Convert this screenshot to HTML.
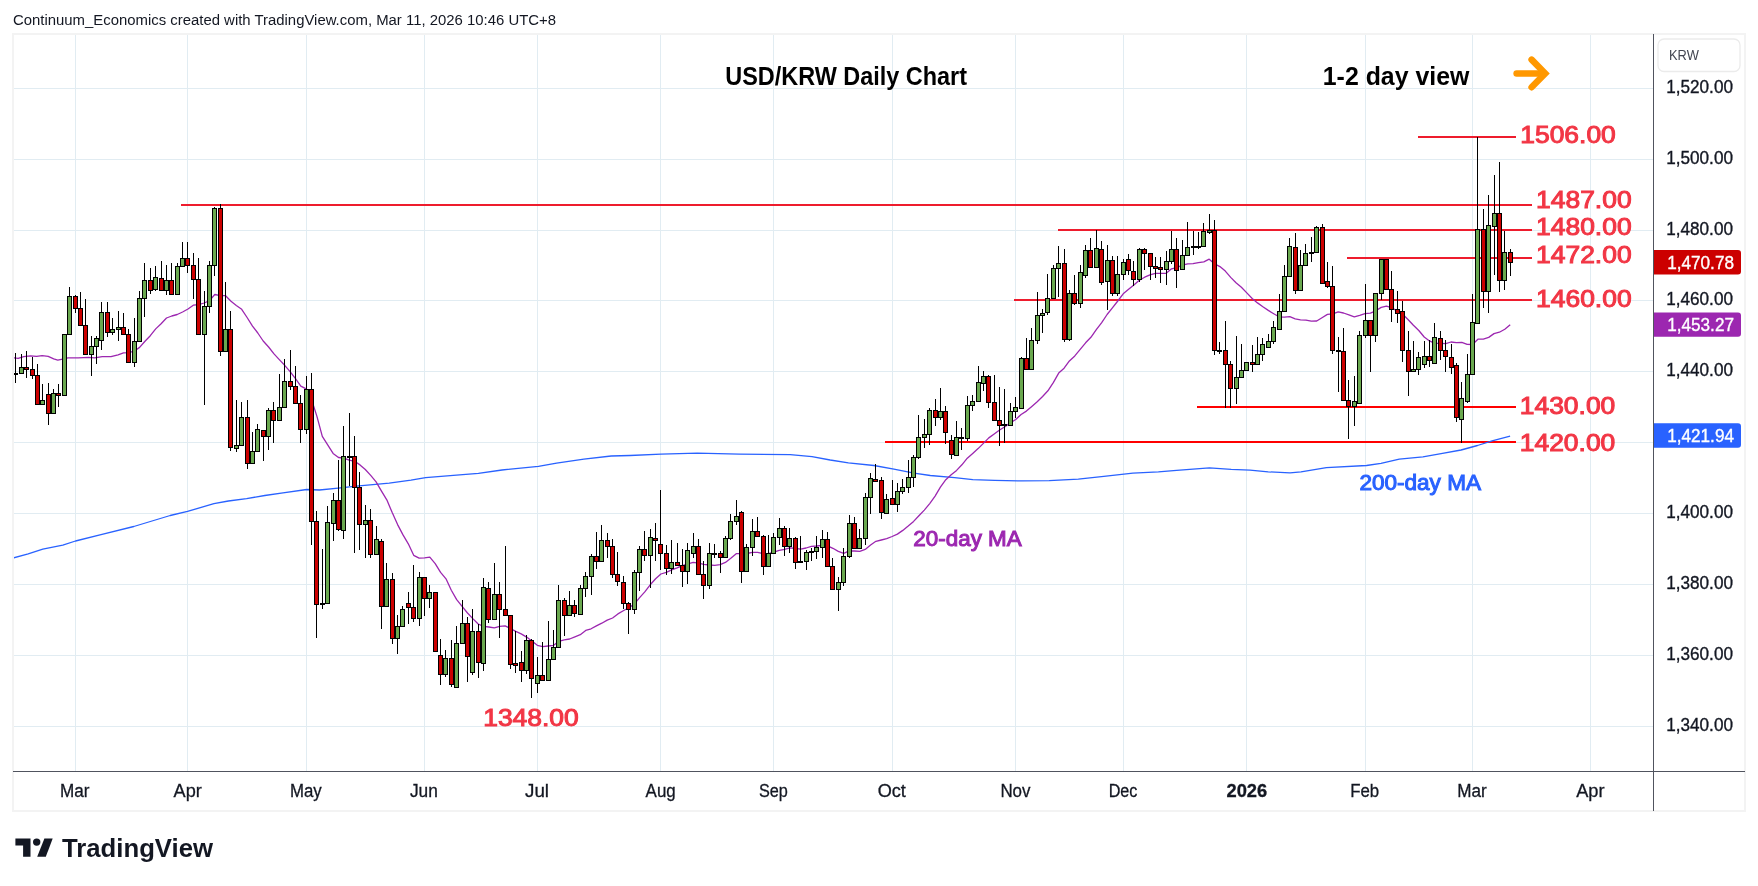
<!DOCTYPE html><html><head><meta charset="utf-8"><title>USD/KRW Daily Chart</title>
<style>html,body{margin:0;padding:0;background:#fff;}body{width:1758px;height:886px;overflow:hidden;}svg{display:block;will-change:transform;}</style></head><body>
<svg width="1758" height="886" viewBox="0 0 1758 886" font-family='"Liberation Sans", Arial, sans-serif'>
<rect width="1758" height="886" fill="#ffffff"/>
<text x="13" y="24.8" font-size="15.4" fill="#131722" textLength="543" lengthAdjust="spacingAndGlyphs">Continuum_Economics created with TradingView.com, Mar 11, 2026 10:46 UTC+8</text>
<rect x="13" y="34" width="1732" height="777" fill="none" stroke="#f3f3f3" stroke-width="2"/>
<defs><clipPath id="pane"><rect x="14" y="35" width="1639" height="736"/></clipPath></defs>
<g clip-path="url(#pane)">
<rect x="14" y="88" width="1639" height="1" fill="#e1ecf2"/>
<rect x="14" y="159" width="1639" height="1" fill="#e1ecf2"/>
<rect x="14" y="230" width="1639" height="1" fill="#e1ecf2"/>
<rect x="14" y="300" width="1639" height="1" fill="#e1ecf2"/>
<rect x="14" y="371" width="1639" height="1" fill="#e1ecf2"/>
<rect x="14" y="442" width="1639" height="1" fill="#e1ecf2"/>
<rect x="14" y="513" width="1639" height="1" fill="#e1ecf2"/>
<rect x="14" y="584" width="1639" height="1" fill="#e1ecf2"/>
<rect x="14" y="655" width="1639" height="1" fill="#e1ecf2"/>
<rect x="14" y="726" width="1639" height="1" fill="#e1ecf2"/>
<rect x="75" y="35" width="1" height="736" fill="#e1ecf2"/>
<rect x="187" y="35" width="1" height="736" fill="#e1ecf2"/>
<rect x="306" y="35" width="1" height="736" fill="#e1ecf2"/>
<rect x="424" y="35" width="1" height="736" fill="#e1ecf2"/>
<rect x="537" y="35" width="1" height="736" fill="#e1ecf2"/>
<rect x="660" y="35" width="1" height="736" fill="#e1ecf2"/>
<rect x="773" y="35" width="1" height="736" fill="#e1ecf2"/>
<rect x="892" y="35" width="1" height="736" fill="#e1ecf2"/>
<rect x="1015" y="35" width="1" height="736" fill="#e1ecf2"/>
<rect x="1123" y="35" width="1" height="736" fill="#e1ecf2"/>
<rect x="1246" y="35" width="1" height="736" fill="#e1ecf2"/>
<rect x="1365" y="35" width="1" height="736" fill="#e1ecf2"/>
<rect x="1472" y="35" width="1" height="736" fill="#e1ecf2"/>
<rect x="1590" y="35" width="1" height="736" fill="#e1ecf2"/>
<rect x="1418" y="136.0" width="98" height="2" fill="#ee1c2d"/>
<rect x="181" y="204.0" width="1351" height="2" fill="#ee1c2d"/>
<rect x="1058" y="229.0" width="474" height="2" fill="#ee1c2d"/>
<rect x="1347" y="257.0" width="185" height="2" fill="#ee1c2d"/>
<rect x="1014" y="299.0" width="518" height="2" fill="#ee1c2d"/>
<rect x="1197" y="406.0" width="319" height="2" fill="#ff0000"/>
<rect x="885" y="441.0" width="631" height="2" fill="#ff0000"/>
<polyline points="13.3,557.9 28.2,553.8 42.8,549.2 62.8,545.2 75.5,541.0 101.0,534.6 133.8,526.5 170.2,515.5 187.5,511.4 213.9,503.7 228.4,501.0 246.6,498.6 264.8,495.5 283.0,492.8 306.7,489.5 319.4,490.0 338.2,488.2 356.4,486.1 389.2,483.1 411.0,480.1 425.6,477.7 456.5,475.1 478.4,473.3 502.0,470.0 538.4,466.4 556.6,463.1 583.9,459.1 611.2,456.0 630.0,455.5 661.0,454.2 697.3,453.1 739.2,454.2 790.2,454.6 812.0,456.7 830.2,460.0 848.4,462.8 873.9,465.5 893.9,469.1 914.0,473.1 930.3,475.5 954.6,477.7 972.8,479.7 994.6,480.4 1021.9,480.9 1049.2,480.6 1078.3,479.1 1103.8,476.4 1132.9,473.1 1158.4,471.8 1176.6,470.4 1209.4,467.8 1231.2,469.3 1250.0,470.1 1268.2,471.9 1290.0,472.8 1301.0,471.9 1326.4,467.7 1366.5,465.5 1381.0,463.3 1399.3,459.1 1422.9,456.8 1441.1,453.7 1461.1,450.0 1477.5,445.5 1492.1,440.9 1510.1,436.1" fill="none" stroke="#2962ff" stroke-width="1.3" stroke-linejoin="round"/>
<polyline points="13.4,357.9 18.2,358.3 23.7,356.7 30.5,355.8 36.6,356.4 42.1,355.7 48.2,356.4 53.7,358.8 57.8,360.1 62.6,359.1 68.0,357.9 78.3,357.9 88.5,357.4 94.6,357.9 102.2,356.7 111.0,356.7 118.1,354.8 123.5,352.9 128.8,352.6 134.2,351.2 139.6,347.4 145.0,341.2 150.3,335.7 155.7,328.9 161.1,323.7 166.5,318.0 171.8,316.0 177.2,314.5 182.6,312.0 188.0,309.0 193.3,305.2 198.7,304.6 204.1,303.0 209.5,300.7 214.8,294.5 220.2,295.6 225.6,295.7 231.0,301.3 236.3,305.5 241.7,309.3 247.1,317.5 252.5,326.1 257.8,333.0 263.2,341.0 268.6,347.0 274.0,353.9 279.3,359.6 284.7,365.3 290.1,371.7 295.5,378.6 300.8,386.1 306.2,388.9 311.6,399.6 317.0,416.6 322.3,436.4 327.7,444.9 333.1,453.4 338.5,457.5 343.8,458.1 349.2,460.1 354.6,461.3 360.0,464.9 365.3,469.5 370.7,475.4 376.1,481.8 381.5,491.1 386.8,499.8 392.2,512.6 397.6,524.6 403.0,534.9 408.3,543.8 413.7,555.3 419.1,558.1 424.5,557.8 429.8,557.2 435.2,563.7 440.6,572.4 446.0,578.8 451.3,590.2 456.7,599.6 462.1,606.4 467.5,613.0 472.8,618.6 478.2,624.0 483.6,626.4 488.9,627.0 494.3,627.8 499.7,626.3 505.1,625.8 510.4,628.5 515.8,631.4 521.2,633.9 526.6,637.1 531.9,641.1 537.3,645.3 542.7,646.7 548.1,646.0 553.4,645.4 558.8,641.3 564.2,639.9 569.6,639.0 574.9,636.8 580.3,634.7 585.7,630.4 591.1,628.8 596.4,625.9 601.8,623.2 607.2,620.1 612.6,618.0 617.9,613.9 623.3,610.8 628.7,607.8 634.1,604.4 639.4,597.9 644.8,591.9 650.2,584.8 655.6,578.8 660.9,574.0 666.3,572.4 671.7,569.8 677.1,567.8 682.4,565.7 687.8,563.8 693.2,562.3 698.6,563.2 703.9,564.4 709.3,565.0 714.7,565.4 720.1,564.6 725.4,562.4 730.8,558.3 736.2,553.7 741.6,553.6 746.9,553.5 752.3,552.3 757.7,552.3 763.1,553.6 768.4,553.6 773.8,552.1 779.2,550.4 784.6,549.4 789.9,547.8 795.3,548.4 800.7,549.1 806.1,548.0 811.4,546.3 816.8,546.0 822.2,545.3 827.6,545.8 832.9,548.3 838.3,551.4 843.7,553.3 849.1,550.9 854.4,551.0 859.8,551.3 865.2,549.4 870.6,545.0 875.9,541.3 881.3,540.0 886.7,538.6 892.1,536.5 897.4,534.1 902.8,530.4 908.2,526.1 913.6,521.4 918.9,515.7 924.3,510.1 929.7,503.6 935.1,496.1 940.4,487.2 945.8,479.7 951.2,474.7 956.6,470.4 961.9,464.8 967.3,458.2 972.7,453.4 978.1,448.6 983.4,443.4 988.8,437.9 994.2,434.0 999.6,430.0 1004.9,426.7 1010.3,422.9 1015.7,419.5 1021.1,414.5 1026.4,411.1 1031.8,406.4 1037.2,401.7 1042.6,396.5 1047.9,390.8 1053.3,382.6 1058.7,373.1 1064.1,368.2 1069.4,360.9 1074.8,355.9 1080.2,349.4 1085.6,342.8 1090.9,337.3 1096.3,329.6 1101.7,322.7 1107.1,314.5 1112.4,307.9 1117.8,301.0 1123.2,293.8 1128.6,289.3 1133.9,284.9 1139.3,280.3 1144.7,277.2 1150.0,274.8 1155.4,273.3 1160.8,273.3 1166.2,273.3 1171.5,268.8 1176.9,267.6 1182.3,265.2 1187.7,263.9 1193.0,263.7 1198.4,262.7 1203.8,261.8 1209.2,259.2 1214.5,263.7 1219.9,266.6 1225.3,271.1 1230.7,277.4 1236.0,282.7 1241.4,287.3 1246.8,292.9 1252.2,298.5 1257.5,302.9 1262.9,306.8 1268.3,310.4 1273.7,313.7 1279.0,316.8 1284.4,317.1 1289.8,316.6 1295.2,318.8 1300.5,319.8 1305.9,320.1 1311.3,321.2 1316.7,321.0 1322.0,317.7 1327.4,314.4 1332.8,313.8 1338.2,311.9 1343.5,313.0 1348.9,314.8 1354.3,316.8 1359.7,315.3 1365.0,313.6 1370.4,313.2 1375.8,310.8 1381.2,307.4 1386.5,306.2 1391.9,307.9 1397.3,311.2 1402.7,314.2 1408.0,319.5 1413.4,325.3 1418.8,330.5 1424.2,337.0 1429.5,340.9 1434.9,343.4 1440.3,343.4 1445.7,343.7 1451.0,342.0 1456.4,342.6 1461.8,342.4 1467.2,344.4 1472.5,344.5 1477.9,339.2 1483.3,339.1 1488.7,337.4 1494.0,333.6 1499.4,332.2 1504.8,329.2 1510.2,324.8" fill="none" stroke="#9c27b0" stroke-width="1.3" stroke-linejoin="round"/>
<g fill="#000"><rect x="15" y="353" width="1" height="20"/>
<rect x="15" y="375" width="1" height="8"/>
<rect x="13" y="373" width="5" height="2"/>
<rect x="21" y="354" width="1" height="13"/>
<rect x="19" y="367" width="5" height="7"/>
<rect x="20" y="368" width="3" height="5" fill="#6aa84f"/>
<rect x="26" y="351" width="1" height="16"/>
<rect x="26" y="370" width="1" height="8"/>
<rect x="24" y="367" width="5" height="3"/>
<rect x="25" y="368" width="3" height="1" fill="#cc0000"/>
<rect x="32" y="357" width="1" height="12"/>
<rect x="32" y="376" width="1" height="3"/>
<rect x="30" y="369" width="5" height="7"/>
<rect x="31" y="370" width="3" height="5" fill="#cc0000"/>
<rect x="37" y="364" width="1" height="11"/>
<rect x="35" y="375" width="5" height="30"/>
<rect x="36" y="376" width="3" height="28" fill="#cc0000"/>
<rect x="42" y="384" width="1" height="16"/>
<rect x="40" y="400" width="5" height="5"/>
<rect x="41" y="401" width="3" height="3" fill="#6aa84f"/>
<rect x="48" y="383" width="1" height="11"/>
<rect x="48" y="414" width="1" height="11"/>
<rect x="46" y="394" width="5" height="20"/>
<rect x="47" y="395" width="3" height="18" fill="#cc0000"/>
<rect x="53" y="389" width="1" height="4"/>
<rect x="51" y="393" width="5" height="21"/>
<rect x="52" y="394" width="3" height="19" fill="#6aa84f"/>
<rect x="58" y="384" width="1" height="9"/>
<rect x="58" y="396" width="1" height="11"/>
<rect x="56" y="393" width="5" height="3"/>
<rect x="57" y="394" width="3" height="1" fill="#cc0000"/>
<rect x="62" y="334" width="5" height="62"/>
<rect x="63" y="335" width="3" height="60" fill="#6aa84f"/>
<rect x="69" y="287" width="1" height="9"/>
<rect x="67" y="296" width="5" height="39"/>
<rect x="68" y="297" width="3" height="37" fill="#6aa84f"/>
<rect x="75" y="295" width="1" height="1"/>
<rect x="75" y="309" width="1" height="4"/>
<rect x="73" y="296" width="5" height="13"/>
<rect x="74" y="297" width="3" height="11" fill="#cc0000"/>
<rect x="80" y="292" width="1" height="16"/>
<rect x="78" y="308" width="5" height="18"/>
<rect x="79" y="309" width="3" height="16" fill="#cc0000"/>
<rect x="85" y="299" width="1" height="26"/>
<rect x="83" y="325" width="5" height="30"/>
<rect x="84" y="326" width="3" height="28" fill="#cc0000"/>
<rect x="91" y="336" width="1" height="10"/>
<rect x="91" y="355" width="1" height="21"/>
<rect x="89" y="346" width="5" height="9"/>
<rect x="90" y="347" width="3" height="7" fill="#6aa84f"/>
<rect x="96" y="336" width="1" height="2"/>
<rect x="96" y="347" width="1" height="17"/>
<rect x="94" y="338" width="5" height="9"/>
<rect x="95" y="339" width="3" height="7" fill="#6aa84f"/>
<rect x="101" y="302" width="1" height="10"/>
<rect x="101" y="341" width="1" height="9"/>
<rect x="99" y="312" width="5" height="29"/>
<rect x="100" y="313" width="3" height="27" fill="#6aa84f"/>
<rect x="107" y="302" width="1" height="10"/>
<rect x="107" y="333" width="1" height="4"/>
<rect x="105" y="312" width="5" height="21"/>
<rect x="106" y="313" width="3" height="19" fill="#cc0000"/>
<rect x="112" y="318" width="1" height="11"/>
<rect x="112" y="333" width="1" height="2"/>
<rect x="110" y="329" width="5" height="4"/>
<rect x="111" y="330" width="3" height="2" fill="#6aa84f"/>
<rect x="118" y="311" width="1" height="16"/>
<rect x="118" y="330" width="1" height="11"/>
<rect x="116" y="327" width="5" height="3"/>
<rect x="117" y="328" width="3" height="1" fill="#6aa84f"/>
<rect x="123" y="313" width="1" height="14"/>
<rect x="121" y="327" width="5" height="8"/>
<rect x="122" y="328" width="3" height="6" fill="#cc0000"/>
<rect x="128" y="329" width="1" height="5"/>
<rect x="126" y="334" width="5" height="29"/>
<rect x="127" y="335" width="3" height="27" fill="#cc0000"/>
<rect x="134" y="318" width="1" height="23"/>
<rect x="134" y="363" width="1" height="4"/>
<rect x="132" y="341" width="5" height="22"/>
<rect x="133" y="342" width="3" height="20" fill="#6aa84f"/>
<rect x="139" y="291" width="1" height="7"/>
<rect x="137" y="298" width="5" height="44"/>
<rect x="138" y="299" width="3" height="42" fill="#6aa84f"/>
<rect x="144" y="263" width="1" height="17"/>
<rect x="144" y="299" width="1" height="18"/>
<rect x="142" y="280" width="5" height="19"/>
<rect x="143" y="281" width="3" height="17" fill="#6aa84f"/>
<rect x="150" y="268" width="1" height="12"/>
<rect x="150" y="291" width="1" height="3"/>
<rect x="148" y="280" width="5" height="11"/>
<rect x="149" y="281" width="3" height="9" fill="#cc0000"/>
<rect x="155" y="266" width="1" height="11"/>
<rect x="155" y="290" width="1" height="1"/>
<rect x="153" y="277" width="5" height="13"/>
<rect x="154" y="278" width="3" height="11" fill="#6aa84f"/>
<rect x="161" y="261" width="1" height="17"/>
<rect x="159" y="278" width="5" height="13"/>
<rect x="160" y="279" width="3" height="11" fill="#cc0000"/>
<rect x="166" y="265" width="1" height="15"/>
<rect x="166" y="291" width="1" height="4"/>
<rect x="164" y="280" width="5" height="11"/>
<rect x="165" y="281" width="3" height="9" fill="#6aa84f"/>
<rect x="171" y="263" width="1" height="17"/>
<rect x="169" y="280" width="5" height="15"/>
<rect x="170" y="281" width="3" height="13" fill="#cc0000"/>
<rect x="177" y="263" width="1" height="3"/>
<rect x="175" y="266" width="5" height="29"/>
<rect x="176" y="267" width="3" height="27" fill="#6aa84f"/>
<rect x="182" y="242" width="1" height="16"/>
<rect x="180" y="258" width="5" height="9"/>
<rect x="181" y="259" width="3" height="7" fill="#6aa84f"/>
<rect x="187" y="242" width="1" height="16"/>
<rect x="187" y="266" width="1" height="7"/>
<rect x="185" y="258" width="5" height="8"/>
<rect x="186" y="259" width="3" height="6" fill="#cc0000"/>
<rect x="193" y="253" width="1" height="12"/>
<rect x="193" y="280" width="1" height="19"/>
<rect x="191" y="265" width="5" height="15"/>
<rect x="192" y="266" width="3" height="13" fill="#cc0000"/>
<rect x="198" y="258" width="1" height="21"/>
<rect x="196" y="279" width="5" height="56"/>
<rect x="197" y="280" width="3" height="54" fill="#cc0000"/>
<rect x="204" y="291" width="1" height="15"/>
<rect x="204" y="335" width="1" height="70"/>
<rect x="202" y="306" width="5" height="29"/>
<rect x="203" y="307" width="3" height="27" fill="#6aa84f"/>
<rect x="209" y="261" width="1" height="4"/>
<rect x="209" y="307" width="1" height="6"/>
<rect x="207" y="265" width="5" height="42"/>
<rect x="208" y="266" width="3" height="40" fill="#6aa84f"/>
<rect x="214" y="207" width="1" height="1"/>
<rect x="214" y="266" width="1" height="10"/>
<rect x="212" y="208" width="5" height="58"/>
<rect x="213" y="209" width="3" height="56" fill="#6aa84f"/>
<rect x="220" y="204" width="1" height="4"/>
<rect x="220" y="352" width="1" height="4"/>
<rect x="218" y="208" width="5" height="144"/>
<rect x="219" y="209" width="3" height="142" fill="#cc0000"/>
<rect x="225" y="282" width="1" height="47"/>
<rect x="223" y="329" width="5" height="23"/>
<rect x="224" y="330" width="3" height="21" fill="#6aa84f"/>
<rect x="230" y="311" width="1" height="18"/>
<rect x="230" y="448" width="1" height="3"/>
<rect x="228" y="329" width="5" height="119"/>
<rect x="229" y="330" width="3" height="117" fill="#cc0000"/>
<rect x="236" y="400" width="1" height="45"/>
<rect x="236" y="449" width="1" height="3"/>
<rect x="234" y="445" width="5" height="4"/>
<rect x="235" y="446" width="3" height="2" fill="#6aa84f"/>
<rect x="241" y="402" width="1" height="15"/>
<rect x="239" y="417" width="5" height="29"/>
<rect x="240" y="418" width="3" height="27" fill="#6aa84f"/>
<rect x="247" y="400" width="1" height="17"/>
<rect x="247" y="464" width="1" height="5"/>
<rect x="245" y="417" width="5" height="47"/>
<rect x="246" y="418" width="3" height="45" fill="#cc0000"/>
<rect x="252" y="432" width="1" height="19"/>
<rect x="250" y="451" width="5" height="13"/>
<rect x="251" y="452" width="3" height="11" fill="#6aa84f"/>
<rect x="257" y="424" width="1" height="5"/>
<rect x="255" y="429" width="5" height="23"/>
<rect x="256" y="430" width="3" height="21" fill="#6aa84f"/>
<rect x="263" y="437" width="1" height="24"/>
<rect x="261" y="430" width="5" height="7"/>
<rect x="262" y="431" width="3" height="5" fill="#cc0000"/>
<rect x="268" y="408" width="1" height="2"/>
<rect x="268" y="437" width="1" height="13"/>
<rect x="266" y="410" width="5" height="27"/>
<rect x="267" y="411" width="3" height="25" fill="#6aa84f"/>
<rect x="273" y="402" width="1" height="8"/>
<rect x="273" y="421" width="1" height="22"/>
<rect x="271" y="410" width="5" height="11"/>
<rect x="272" y="411" width="3" height="9" fill="#cc0000"/>
<rect x="279" y="374" width="1" height="33"/>
<rect x="277" y="407" width="5" height="14"/>
<rect x="278" y="408" width="3" height="12" fill="#6aa84f"/>
<rect x="284" y="359" width="1" height="22"/>
<rect x="282" y="381" width="5" height="27"/>
<rect x="283" y="382" width="3" height="25" fill="#6aa84f"/>
<rect x="290" y="350" width="1" height="31"/>
<rect x="290" y="387" width="1" height="3"/>
<rect x="288" y="381" width="5" height="6"/>
<rect x="289" y="382" width="3" height="4" fill="#cc0000"/>
<rect x="295" y="366" width="1" height="20"/>
<rect x="293" y="386" width="5" height="18"/>
<rect x="294" y="387" width="3" height="16" fill="#cc0000"/>
<rect x="300" y="395" width="1" height="8"/>
<rect x="300" y="430" width="1" height="13"/>
<rect x="298" y="403" width="5" height="27"/>
<rect x="299" y="404" width="3" height="25" fill="#cc0000"/>
<rect x="306" y="376" width="1" height="13"/>
<rect x="306" y="430" width="1" height="4"/>
<rect x="304" y="389" width="5" height="41"/>
<rect x="305" y="390" width="3" height="39" fill="#6aa84f"/>
<rect x="311" y="373" width="1" height="16"/>
<rect x="311" y="522" width="1" height="23"/>
<rect x="309" y="389" width="5" height="133"/>
<rect x="310" y="390" width="3" height="131" fill="#cc0000"/>
<rect x="316" y="511" width="1" height="10"/>
<rect x="316" y="605" width="1" height="33"/>
<rect x="314" y="521" width="5" height="84"/>
<rect x="315" y="522" width="3" height="82" fill="#cc0000"/>
<rect x="322" y="549" width="1" height="54"/>
<rect x="322" y="605" width="1" height="4"/>
<rect x="320" y="603" width="5" height="2"/>
<rect x="327" y="506" width="1" height="16"/>
<rect x="325" y="522" width="5" height="82"/>
<rect x="326" y="523" width="3" height="80" fill="#6aa84f"/>
<rect x="333" y="493" width="1" height="7"/>
<rect x="333" y="524" width="1" height="17"/>
<rect x="331" y="500" width="5" height="24"/>
<rect x="332" y="501" width="3" height="22" fill="#6aa84f"/>
<rect x="338" y="460" width="1" height="40"/>
<rect x="338" y="530" width="1" height="1"/>
<rect x="336" y="500" width="5" height="30"/>
<rect x="337" y="501" width="3" height="28" fill="#cc0000"/>
<rect x="343" y="426" width="1" height="30"/>
<rect x="343" y="531" width="1" height="8"/>
<rect x="341" y="456" width="5" height="75"/>
<rect x="342" y="457" width="3" height="73" fill="#6aa84f"/>
<rect x="349" y="413" width="1" height="43"/>
<rect x="349" y="458" width="1" height="28"/>
<rect x="347" y="456" width="5" height="2"/>
<rect x="354" y="436" width="1" height="20"/>
<rect x="354" y="488" width="1" height="65"/>
<rect x="352" y="456" width="5" height="32"/>
<rect x="353" y="457" width="3" height="30" fill="#cc0000"/>
<rect x="359" y="472" width="1" height="15"/>
<rect x="359" y="525" width="1" height="25"/>
<rect x="357" y="487" width="5" height="38"/>
<rect x="358" y="488" width="3" height="36" fill="#cc0000"/>
<rect x="365" y="505" width="1" height="15"/>
<rect x="365" y="525" width="1" height="33"/>
<rect x="363" y="520" width="5" height="5"/>
<rect x="364" y="521" width="3" height="3" fill="#6aa84f"/>
<rect x="370" y="509" width="1" height="11"/>
<rect x="370" y="555" width="1" height="3"/>
<rect x="368" y="520" width="5" height="35"/>
<rect x="369" y="521" width="3" height="33" fill="#cc0000"/>
<rect x="376" y="526" width="1" height="13"/>
<rect x="374" y="539" width="5" height="16"/>
<rect x="375" y="540" width="3" height="14" fill="#6aa84f"/>
<rect x="381" y="539" width="1" height="2"/>
<rect x="381" y="607" width="1" height="22"/>
<rect x="379" y="541" width="5" height="66"/>
<rect x="380" y="542" width="3" height="64" fill="#cc0000"/>
<rect x="386" y="563" width="1" height="16"/>
<rect x="384" y="579" width="5" height="28"/>
<rect x="385" y="580" width="3" height="26" fill="#6aa84f"/>
<rect x="392" y="573" width="1" height="6"/>
<rect x="392" y="639" width="1" height="5"/>
<rect x="390" y="579" width="5" height="60"/>
<rect x="391" y="580" width="3" height="58" fill="#cc0000"/>
<rect x="397" y="615" width="1" height="11"/>
<rect x="397" y="639" width="1" height="15"/>
<rect x="395" y="626" width="5" height="13"/>
<rect x="396" y="627" width="3" height="11" fill="#6aa84f"/>
<rect x="402" y="606" width="1" height="3"/>
<rect x="400" y="609" width="5" height="18"/>
<rect x="401" y="610" width="3" height="16" fill="#6aa84f"/>
<rect x="408" y="592" width="1" height="11"/>
<rect x="408" y="608" width="1" height="16"/>
<rect x="406" y="603" width="5" height="5"/>
<rect x="407" y="604" width="3" height="3" fill="#cc0000"/>
<rect x="413" y="565" width="1" height="42"/>
<rect x="413" y="619" width="1" height="3"/>
<rect x="411" y="607" width="5" height="12"/>
<rect x="412" y="608" width="3" height="10" fill="#cc0000"/>
<rect x="419" y="572" width="1" height="5"/>
<rect x="419" y="619" width="1" height="7"/>
<rect x="417" y="577" width="5" height="42"/>
<rect x="418" y="578" width="3" height="40" fill="#6aa84f"/>
<rect x="424" y="599" width="1" height="17"/>
<rect x="422" y="577" width="5" height="22"/>
<rect x="423" y="578" width="3" height="20" fill="#cc0000"/>
<rect x="429" y="585" width="1" height="7"/>
<rect x="429" y="599" width="1" height="9"/>
<rect x="427" y="592" width="5" height="7"/>
<rect x="428" y="593" width="3" height="5" fill="#6aa84f"/>
<rect x="433" y="592" width="5" height="60"/>
<rect x="434" y="593" width="3" height="58" fill="#cc0000"/>
<rect x="440" y="639" width="1" height="16"/>
<rect x="440" y="675" width="1" height="10"/>
<rect x="438" y="655" width="5" height="20"/>
<rect x="439" y="656" width="3" height="18" fill="#cc0000"/>
<rect x="445" y="650" width="1" height="8"/>
<rect x="445" y="675" width="1" height="2"/>
<rect x="443" y="658" width="5" height="17"/>
<rect x="444" y="659" width="3" height="15" fill="#6aa84f"/>
<rect x="451" y="640" width="1" height="18"/>
<rect x="451" y="685" width="1" height="2"/>
<rect x="449" y="658" width="5" height="27"/>
<rect x="450" y="659" width="3" height="25" fill="#cc0000"/>
<rect x="456" y="626" width="1" height="17"/>
<rect x="454" y="643" width="5" height="45"/>
<rect x="455" y="644" width="3" height="43" fill="#6aa84f"/>
<rect x="462" y="600" width="1" height="23"/>
<rect x="460" y="623" width="5" height="21"/>
<rect x="461" y="624" width="3" height="19" fill="#6aa84f"/>
<rect x="467" y="617" width="1" height="6"/>
<rect x="467" y="657" width="1" height="25"/>
<rect x="465" y="623" width="5" height="34"/>
<rect x="466" y="624" width="3" height="32" fill="#cc0000"/>
<rect x="472" y="609" width="1" height="22"/>
<rect x="472" y="673" width="1" height="2"/>
<rect x="470" y="631" width="5" height="42"/>
<rect x="471" y="632" width="3" height="40" fill="#6aa84f"/>
<rect x="478" y="624" width="1" height="7"/>
<rect x="478" y="663" width="1" height="15"/>
<rect x="476" y="631" width="5" height="32"/>
<rect x="477" y="632" width="3" height="30" fill="#cc0000"/>
<rect x="483" y="578" width="1" height="9"/>
<rect x="483" y="664" width="1" height="7"/>
<rect x="481" y="587" width="5" height="77"/>
<rect x="482" y="588" width="3" height="75" fill="#6aa84f"/>
<rect x="488" y="582" width="1" height="6"/>
<rect x="488" y="620" width="1" height="3"/>
<rect x="486" y="588" width="5" height="32"/>
<rect x="487" y="589" width="3" height="30" fill="#cc0000"/>
<rect x="494" y="563" width="1" height="31"/>
<rect x="492" y="594" width="5" height="26"/>
<rect x="493" y="595" width="3" height="24" fill="#6aa84f"/>
<rect x="499" y="582" width="1" height="12"/>
<rect x="499" y="610" width="1" height="28"/>
<rect x="497" y="594" width="5" height="16"/>
<rect x="498" y="595" width="3" height="14" fill="#cc0000"/>
<rect x="505" y="546" width="1" height="63"/>
<rect x="503" y="609" width="5" height="7"/>
<rect x="504" y="610" width="3" height="5" fill="#cc0000"/>
<rect x="510" y="665" width="1" height="4"/>
<rect x="508" y="615" width="5" height="50"/>
<rect x="509" y="616" width="3" height="48" fill="#cc0000"/>
<rect x="515" y="631" width="1" height="32"/>
<rect x="515" y="666" width="1" height="7"/>
<rect x="513" y="663" width="5" height="3"/>
<rect x="514" y="664" width="3" height="1" fill="#cc0000"/>
<rect x="521" y="651" width="1" height="11"/>
<rect x="521" y="671" width="1" height="11"/>
<rect x="519" y="662" width="5" height="9"/>
<rect x="520" y="663" width="3" height="7" fill="#cc0000"/>
<rect x="526" y="635" width="1" height="5"/>
<rect x="526" y="671" width="1" height="3"/>
<rect x="524" y="640" width="5" height="31"/>
<rect x="525" y="641" width="3" height="29" fill="#6aa84f"/>
<rect x="531" y="639" width="1" height="1"/>
<rect x="531" y="679" width="1" height="19"/>
<rect x="529" y="640" width="5" height="39"/>
<rect x="530" y="641" width="3" height="37" fill="#cc0000"/>
<rect x="537" y="657" width="1" height="18"/>
<rect x="537" y="684" width="1" height="9"/>
<rect x="535" y="675" width="5" height="9"/>
<rect x="536" y="676" width="3" height="7" fill="#6aa84f"/>
<rect x="542" y="642" width="1" height="33"/>
<rect x="540" y="675" width="5" height="6"/>
<rect x="541" y="676" width="3" height="4" fill="#cc0000"/>
<rect x="548" y="621" width="1" height="38"/>
<rect x="546" y="659" width="5" height="22"/>
<rect x="547" y="660" width="3" height="20" fill="#6aa84f"/>
<rect x="553" y="630" width="1" height="17"/>
<rect x="551" y="647" width="5" height="13"/>
<rect x="552" y="648" width="3" height="11" fill="#6aa84f"/>
<rect x="558" y="585" width="1" height="15"/>
<rect x="556" y="600" width="5" height="48"/>
<rect x="557" y="601" width="3" height="46" fill="#6aa84f"/>
<rect x="564" y="598" width="1" height="2"/>
<rect x="564" y="616" width="1" height="20"/>
<rect x="562" y="600" width="5" height="16"/>
<rect x="563" y="601" width="3" height="14" fill="#cc0000"/>
<rect x="569" y="591" width="1" height="14"/>
<rect x="567" y="605" width="5" height="11"/>
<rect x="568" y="606" width="3" height="9" fill="#6aa84f"/>
<rect x="574" y="600" width="1" height="5"/>
<rect x="574" y="614" width="1" height="3"/>
<rect x="572" y="605" width="5" height="9"/>
<rect x="573" y="606" width="3" height="7" fill="#cc0000"/>
<rect x="580" y="585" width="1" height="3"/>
<rect x="578" y="588" width="5" height="27"/>
<rect x="579" y="589" width="3" height="25" fill="#6aa84f"/>
<rect x="585" y="572" width="1" height="4"/>
<rect x="585" y="589" width="1" height="8"/>
<rect x="583" y="576" width="5" height="13"/>
<rect x="584" y="577" width="3" height="11" fill="#6aa84f"/>
<rect x="591" y="554" width="1" height="2"/>
<rect x="591" y="577" width="1" height="18"/>
<rect x="589" y="556" width="5" height="21"/>
<rect x="590" y="557" width="3" height="19" fill="#6aa84f"/>
<rect x="596" y="532" width="1" height="24"/>
<rect x="596" y="562" width="1" height="7"/>
<rect x="594" y="556" width="5" height="6"/>
<rect x="595" y="557" width="3" height="4" fill="#cc0000"/>
<rect x="601" y="525" width="1" height="15"/>
<rect x="599" y="540" width="5" height="22"/>
<rect x="600" y="541" width="3" height="20" fill="#6aa84f"/>
<rect x="607" y="533" width="1" height="7"/>
<rect x="607" y="547" width="1" height="11"/>
<rect x="605" y="540" width="5" height="7"/>
<rect x="606" y="541" width="3" height="5" fill="#cc0000"/>
<rect x="612" y="539" width="1" height="7"/>
<rect x="612" y="575" width="1" height="3"/>
<rect x="610" y="546" width="5" height="29"/>
<rect x="611" y="547" width="3" height="27" fill="#cc0000"/>
<rect x="617" y="552" width="1" height="22"/>
<rect x="617" y="582" width="1" height="4"/>
<rect x="615" y="574" width="5" height="8"/>
<rect x="616" y="575" width="3" height="6" fill="#cc0000"/>
<rect x="623" y="576" width="1" height="6"/>
<rect x="623" y="604" width="1" height="5"/>
<rect x="621" y="582" width="5" height="22"/>
<rect x="622" y="583" width="3" height="20" fill="#cc0000"/>
<rect x="628" y="602" width="1" height="1"/>
<rect x="628" y="610" width="1" height="24"/>
<rect x="626" y="603" width="5" height="7"/>
<rect x="627" y="604" width="3" height="5" fill="#cc0000"/>
<rect x="634" y="570" width="1" height="2"/>
<rect x="634" y="610" width="1" height="4"/>
<rect x="632" y="572" width="5" height="38"/>
<rect x="633" y="573" width="3" height="36" fill="#6aa84f"/>
<rect x="639" y="546" width="1" height="3"/>
<rect x="639" y="573" width="1" height="18"/>
<rect x="637" y="549" width="5" height="24"/>
<rect x="638" y="550" width="3" height="22" fill="#6aa84f"/>
<rect x="644" y="531" width="1" height="18"/>
<rect x="644" y="556" width="1" height="5"/>
<rect x="642" y="549" width="5" height="7"/>
<rect x="643" y="550" width="3" height="5" fill="#cc0000"/>
<rect x="650" y="529" width="1" height="8"/>
<rect x="650" y="556" width="1" height="32"/>
<rect x="648" y="537" width="5" height="19"/>
<rect x="649" y="538" width="3" height="17" fill="#6aa84f"/>
<rect x="655" y="523" width="1" height="15"/>
<rect x="655" y="541" width="1" height="20"/>
<rect x="653" y="538" width="5" height="3"/>
<rect x="654" y="539" width="3" height="1" fill="#cc0000"/>
<rect x="660" y="490" width="1" height="54"/>
<rect x="660" y="554" width="1" height="16"/>
<rect x="658" y="544" width="5" height="10"/>
<rect x="659" y="545" width="3" height="8" fill="#cc0000"/>
<rect x="666" y="545" width="1" height="8"/>
<rect x="666" y="569" width="1" height="6"/>
<rect x="664" y="553" width="5" height="16"/>
<rect x="665" y="554" width="3" height="14" fill="#cc0000"/>
<rect x="671" y="540" width="1" height="22"/>
<rect x="671" y="569" width="1" height="5"/>
<rect x="669" y="562" width="5" height="7"/>
<rect x="670" y="563" width="3" height="5" fill="#6aa84f"/>
<rect x="677" y="543" width="1" height="19"/>
<rect x="675" y="562" width="5" height="4"/>
<rect x="676" y="563" width="3" height="2" fill="#cc0000"/>
<rect x="682" y="549" width="1" height="16"/>
<rect x="682" y="572" width="1" height="15"/>
<rect x="680" y="565" width="5" height="7"/>
<rect x="681" y="566" width="3" height="5" fill="#cc0000"/>
<rect x="687" y="543" width="1" height="7"/>
<rect x="687" y="572" width="1" height="12"/>
<rect x="685" y="550" width="5" height="22"/>
<rect x="686" y="551" width="3" height="20" fill="#6aa84f"/>
<rect x="693" y="533" width="1" height="13"/>
<rect x="693" y="554" width="1" height="4"/>
<rect x="691" y="546" width="5" height="8"/>
<rect x="692" y="547" width="3" height="6" fill="#6aa84f"/>
<rect x="698" y="539" width="1" height="7"/>
<rect x="696" y="546" width="5" height="29"/>
<rect x="697" y="547" width="3" height="27" fill="#cc0000"/>
<rect x="703" y="561" width="1" height="13"/>
<rect x="703" y="586" width="1" height="13"/>
<rect x="701" y="574" width="5" height="12"/>
<rect x="702" y="575" width="3" height="10" fill="#cc0000"/>
<rect x="709" y="543" width="1" height="10"/>
<rect x="709" y="586" width="1" height="3"/>
<rect x="707" y="553" width="5" height="33"/>
<rect x="708" y="554" width="3" height="31" fill="#6aa84f"/>
<rect x="714" y="544" width="1" height="9"/>
<rect x="714" y="555" width="1" height="3"/>
<rect x="712" y="553" width="5" height="2"/>
<rect x="720" y="551" width="1" height="2"/>
<rect x="720" y="558" width="1" height="15"/>
<rect x="718" y="553" width="5" height="5"/>
<rect x="719" y="554" width="3" height="3" fill="#cc0000"/>
<rect x="725" y="536" width="1" height="2"/>
<rect x="723" y="538" width="5" height="20"/>
<rect x="724" y="539" width="3" height="18" fill="#6aa84f"/>
<rect x="730" y="514" width="1" height="7"/>
<rect x="730" y="539" width="1" height="1"/>
<rect x="728" y="521" width="5" height="18"/>
<rect x="729" y="522" width="3" height="16" fill="#6aa84f"/>
<rect x="736" y="500" width="1" height="16"/>
<rect x="736" y="522" width="1" height="3"/>
<rect x="734" y="516" width="5" height="6"/>
<rect x="735" y="517" width="3" height="4" fill="#6aa84f"/>
<rect x="741" y="511" width="1" height="1"/>
<rect x="741" y="572" width="1" height="11"/>
<rect x="739" y="512" width="5" height="60"/>
<rect x="740" y="513" width="3" height="58" fill="#cc0000"/>
<rect x="746" y="544" width="1" height="3"/>
<rect x="744" y="547" width="5" height="25"/>
<rect x="745" y="548" width="3" height="23" fill="#6aa84f"/>
<rect x="752" y="519" width="1" height="12"/>
<rect x="752" y="548" width="1" height="8"/>
<rect x="750" y="531" width="5" height="17"/>
<rect x="751" y="532" width="3" height="15" fill="#6aa84f"/>
<rect x="757" y="517" width="1" height="14"/>
<rect x="755" y="531" width="5" height="6"/>
<rect x="756" y="532" width="3" height="4" fill="#cc0000"/>
<rect x="763" y="535" width="1" height="1"/>
<rect x="763" y="567" width="1" height="8"/>
<rect x="761" y="536" width="5" height="31"/>
<rect x="762" y="537" width="3" height="29" fill="#cc0000"/>
<rect x="768" y="535" width="1" height="18"/>
<rect x="766" y="553" width="5" height="14"/>
<rect x="767" y="554" width="3" height="12" fill="#6aa84f"/>
<rect x="773" y="533" width="1" height="4"/>
<rect x="771" y="537" width="5" height="17"/>
<rect x="772" y="538" width="3" height="15" fill="#6aa84f"/>
<rect x="779" y="518" width="1" height="10"/>
<rect x="779" y="538" width="1" height="7"/>
<rect x="777" y="528" width="5" height="10"/>
<rect x="778" y="529" width="3" height="8" fill="#6aa84f"/>
<rect x="784" y="526" width="1" height="2"/>
<rect x="784" y="547" width="1" height="9"/>
<rect x="782" y="528" width="5" height="19"/>
<rect x="783" y="529" width="3" height="17" fill="#cc0000"/>
<rect x="789" y="528" width="1" height="10"/>
<rect x="789" y="547" width="1" height="6"/>
<rect x="787" y="538" width="5" height="9"/>
<rect x="788" y="539" width="3" height="7" fill="#6aa84f"/>
<rect x="795" y="537" width="1" height="1"/>
<rect x="795" y="563" width="1" height="6"/>
<rect x="793" y="538" width="5" height="25"/>
<rect x="794" y="539" width="3" height="23" fill="#cc0000"/>
<rect x="800" y="536" width="1" height="25"/>
<rect x="798" y="561" width="5" height="2"/>
<rect x="806" y="550" width="1" height="2"/>
<rect x="806" y="562" width="1" height="8"/>
<rect x="804" y="552" width="5" height="10"/>
<rect x="805" y="553" width="3" height="8" fill="#6aa84f"/>
<rect x="811" y="548" width="1" height="3"/>
<rect x="811" y="553" width="1" height="8"/>
<rect x="809" y="551" width="5" height="2"/>
<rect x="816" y="536" width="1" height="11"/>
<rect x="816" y="552" width="1" height="7"/>
<rect x="814" y="547" width="5" height="5"/>
<rect x="815" y="548" width="3" height="3" fill="#6aa84f"/>
<rect x="822" y="530" width="1" height="9"/>
<rect x="822" y="548" width="1" height="10"/>
<rect x="820" y="539" width="5" height="9"/>
<rect x="821" y="540" width="3" height="7" fill="#6aa84f"/>
<rect x="827" y="532" width="1" height="7"/>
<rect x="825" y="539" width="5" height="28"/>
<rect x="826" y="540" width="3" height="26" fill="#cc0000"/>
<rect x="832" y="558" width="1" height="8"/>
<rect x="830" y="566" width="5" height="24"/>
<rect x="831" y="567" width="3" height="22" fill="#cc0000"/>
<rect x="838" y="577" width="1" height="5"/>
<rect x="838" y="590" width="1" height="21"/>
<rect x="836" y="582" width="5" height="8"/>
<rect x="837" y="583" width="3" height="6" fill="#6aa84f"/>
<rect x="843" y="548" width="1" height="8"/>
<rect x="843" y="583" width="1" height="3"/>
<rect x="841" y="556" width="5" height="27"/>
<rect x="842" y="557" width="3" height="25" fill="#6aa84f"/>
<rect x="849" y="515" width="1" height="8"/>
<rect x="849" y="557" width="1" height="1"/>
<rect x="847" y="523" width="5" height="34"/>
<rect x="848" y="524" width="3" height="32" fill="#6aa84f"/>
<rect x="854" y="517" width="1" height="6"/>
<rect x="852" y="523" width="5" height="26"/>
<rect x="853" y="524" width="3" height="24" fill="#cc0000"/>
<rect x="859" y="529" width="1" height="9"/>
<rect x="857" y="538" width="5" height="11"/>
<rect x="858" y="539" width="3" height="9" fill="#6aa84f"/>
<rect x="865" y="493" width="1" height="4"/>
<rect x="865" y="539" width="1" height="6"/>
<rect x="863" y="497" width="5" height="42"/>
<rect x="864" y="498" width="3" height="40" fill="#6aa84f"/>
<rect x="870" y="473" width="1" height="5"/>
<rect x="870" y="498" width="1" height="16"/>
<rect x="868" y="478" width="5" height="20"/>
<rect x="869" y="479" width="3" height="18" fill="#6aa84f"/>
<rect x="875" y="464" width="1" height="15"/>
<rect x="873" y="479" width="5" height="3"/>
<rect x="874" y="480" width="3" height="1" fill="#cc0000"/>
<rect x="881" y="477" width="1" height="3"/>
<rect x="881" y="513" width="1" height="6"/>
<rect x="879" y="480" width="5" height="33"/>
<rect x="880" y="481" width="3" height="31" fill="#cc0000"/>
<rect x="886" y="494" width="1" height="5"/>
<rect x="884" y="499" width="5" height="15"/>
<rect x="885" y="500" width="3" height="13" fill="#6aa84f"/>
<rect x="892" y="480" width="1" height="18"/>
<rect x="890" y="498" width="5" height="7"/>
<rect x="891" y="499" width="3" height="5" fill="#cc0000"/>
<rect x="897" y="483" width="1" height="8"/>
<rect x="897" y="505" width="1" height="7"/>
<rect x="895" y="491" width="5" height="14"/>
<rect x="896" y="492" width="3" height="12" fill="#6aa84f"/>
<rect x="902" y="479" width="1" height="8"/>
<rect x="902" y="492" width="1" height="2"/>
<rect x="900" y="487" width="5" height="5"/>
<rect x="901" y="488" width="3" height="3" fill="#6aa84f"/>
<rect x="908" y="460" width="1" height="17"/>
<rect x="908" y="488" width="1" height="5"/>
<rect x="906" y="477" width="5" height="11"/>
<rect x="907" y="478" width="3" height="9" fill="#6aa84f"/>
<rect x="913" y="455" width="1" height="2"/>
<rect x="913" y="478" width="1" height="9"/>
<rect x="911" y="457" width="5" height="21"/>
<rect x="912" y="458" width="3" height="19" fill="#6aa84f"/>
<rect x="918" y="415" width="1" height="22"/>
<rect x="918" y="458" width="1" height="1"/>
<rect x="916" y="437" width="5" height="21"/>
<rect x="917" y="438" width="3" height="19" fill="#6aa84f"/>
<rect x="924" y="419" width="1" height="15"/>
<rect x="924" y="438" width="1" height="10"/>
<rect x="922" y="434" width="5" height="4"/>
<rect x="923" y="435" width="3" height="2" fill="#6aa84f"/>
<rect x="929" y="408" width="1" height="2"/>
<rect x="929" y="435" width="1" height="10"/>
<rect x="927" y="410" width="5" height="25"/>
<rect x="928" y="411" width="3" height="23" fill="#6aa84f"/>
<rect x="935" y="399" width="1" height="11"/>
<rect x="935" y="418" width="1" height="8"/>
<rect x="933" y="410" width="5" height="8"/>
<rect x="934" y="411" width="3" height="6" fill="#cc0000"/>
<rect x="940" y="388" width="1" height="23"/>
<rect x="940" y="418" width="1" height="2"/>
<rect x="938" y="411" width="5" height="7"/>
<rect x="939" y="412" width="3" height="5" fill="#6aa84f"/>
<rect x="945" y="406" width="1" height="5"/>
<rect x="945" y="433" width="1" height="11"/>
<rect x="943" y="411" width="5" height="22"/>
<rect x="944" y="412" width="3" height="20" fill="#cc0000"/>
<rect x="951" y="435" width="1" height="5"/>
<rect x="951" y="455" width="1" height="4"/>
<rect x="949" y="440" width="5" height="15"/>
<rect x="950" y="441" width="3" height="13" fill="#cc0000"/>
<rect x="956" y="421" width="1" height="16"/>
<rect x="954" y="437" width="5" height="19"/>
<rect x="955" y="438" width="3" height="17" fill="#6aa84f"/>
<rect x="961" y="428" width="1" height="9"/>
<rect x="961" y="439" width="1" height="11"/>
<rect x="959" y="437" width="5" height="2"/>
<rect x="967" y="396" width="1" height="9"/>
<rect x="967" y="439" width="1" height="2"/>
<rect x="965" y="405" width="5" height="34"/>
<rect x="966" y="406" width="3" height="32" fill="#6aa84f"/>
<rect x="972" y="395" width="1" height="6"/>
<rect x="972" y="406" width="1" height="5"/>
<rect x="970" y="401" width="5" height="5"/>
<rect x="971" y="402" width="3" height="3" fill="#6aa84f"/>
<rect x="978" y="366" width="1" height="16"/>
<rect x="976" y="382" width="5" height="20"/>
<rect x="977" y="383" width="3" height="18" fill="#6aa84f"/>
<rect x="983" y="371" width="1" height="5"/>
<rect x="983" y="384" width="1" height="7"/>
<rect x="981" y="376" width="5" height="8"/>
<rect x="982" y="377" width="3" height="6" fill="#6aa84f"/>
<rect x="988" y="375" width="1" height="1"/>
<rect x="988" y="403" width="1" height="5"/>
<rect x="986" y="376" width="5" height="27"/>
<rect x="987" y="377" width="3" height="25" fill="#cc0000"/>
<rect x="994" y="375" width="1" height="27"/>
<rect x="992" y="402" width="5" height="19"/>
<rect x="993" y="403" width="3" height="17" fill="#cc0000"/>
<rect x="999" y="387" width="1" height="33"/>
<rect x="999" y="426" width="1" height="20"/>
<rect x="997" y="420" width="5" height="6"/>
<rect x="998" y="421" width="3" height="4" fill="#cc0000"/>
<rect x="1004" y="389" width="1" height="35"/>
<rect x="1004" y="426" width="1" height="17"/>
<rect x="1002" y="424" width="5" height="2"/>
<rect x="1010" y="403" width="1" height="8"/>
<rect x="1008" y="411" width="5" height="15"/>
<rect x="1009" y="412" width="3" height="13" fill="#6aa84f"/>
<rect x="1015" y="397" width="1" height="10"/>
<rect x="1015" y="412" width="1" height="6"/>
<rect x="1013" y="407" width="5" height="5"/>
<rect x="1014" y="408" width="3" height="3" fill="#6aa84f"/>
<rect x="1021" y="357" width="1" height="1"/>
<rect x="1019" y="358" width="5" height="51"/>
<rect x="1020" y="359" width="3" height="49" fill="#6aa84f"/>
<rect x="1026" y="338" width="1" height="20"/>
<rect x="1024" y="358" width="5" height="12"/>
<rect x="1025" y="359" width="3" height="10" fill="#cc0000"/>
<rect x="1031" y="328" width="1" height="12"/>
<rect x="1029" y="340" width="5" height="30"/>
<rect x="1030" y="341" width="3" height="28" fill="#6aa84f"/>
<rect x="1037" y="292" width="1" height="23"/>
<rect x="1037" y="341" width="1" height="3"/>
<rect x="1035" y="315" width="5" height="26"/>
<rect x="1036" y="316" width="3" height="24" fill="#6aa84f"/>
<rect x="1042" y="309" width="1" height="4"/>
<rect x="1042" y="316" width="1" height="17"/>
<rect x="1040" y="313" width="5" height="3"/>
<rect x="1041" y="314" width="3" height="1" fill="#6aa84f"/>
<rect x="1047" y="274" width="1" height="24"/>
<rect x="1047" y="313" width="1" height="2"/>
<rect x="1045" y="298" width="5" height="15"/>
<rect x="1046" y="299" width="3" height="13" fill="#6aa84f"/>
<rect x="1053" y="265" width="1" height="3"/>
<rect x="1051" y="268" width="5" height="31"/>
<rect x="1052" y="269" width="3" height="29" fill="#6aa84f"/>
<rect x="1058" y="246" width="1" height="17"/>
<rect x="1058" y="269" width="1" height="28"/>
<rect x="1056" y="263" width="5" height="6"/>
<rect x="1057" y="264" width="3" height="4" fill="#6aa84f"/>
<rect x="1064" y="249" width="1" height="14"/>
<rect x="1064" y="340" width="1" height="2"/>
<rect x="1062" y="263" width="5" height="77"/>
<rect x="1063" y="264" width="3" height="75" fill="#cc0000"/>
<rect x="1069" y="290" width="1" height="3"/>
<rect x="1069" y="340" width="1" height="1"/>
<rect x="1067" y="293" width="5" height="47"/>
<rect x="1068" y="294" width="3" height="45" fill="#6aa84f"/>
<rect x="1074" y="275" width="1" height="18"/>
<rect x="1074" y="304" width="1" height="1"/>
<rect x="1072" y="293" width="5" height="11"/>
<rect x="1073" y="294" width="3" height="9" fill="#cc0000"/>
<rect x="1080" y="265" width="1" height="7"/>
<rect x="1080" y="304" width="1" height="4"/>
<rect x="1078" y="272" width="5" height="32"/>
<rect x="1079" y="273" width="3" height="30" fill="#6aa84f"/>
<rect x="1085" y="245" width="1" height="5"/>
<rect x="1085" y="276" width="1" height="2"/>
<rect x="1083" y="250" width="5" height="26"/>
<rect x="1084" y="251" width="3" height="24" fill="#6aa84f"/>
<rect x="1090" y="238" width="1" height="12"/>
<rect x="1088" y="250" width="5" height="18"/>
<rect x="1089" y="251" width="3" height="16" fill="#cc0000"/>
<rect x="1096" y="230" width="1" height="18"/>
<rect x="1094" y="248" width="5" height="20"/>
<rect x="1095" y="249" width="3" height="18" fill="#6aa84f"/>
<rect x="1101" y="241" width="1" height="8"/>
<rect x="1101" y="283" width="1" height="2"/>
<rect x="1099" y="249" width="5" height="34"/>
<rect x="1100" y="250" width="3" height="32" fill="#cc0000"/>
<rect x="1107" y="245" width="1" height="15"/>
<rect x="1107" y="282" width="1" height="28"/>
<rect x="1105" y="260" width="5" height="22"/>
<rect x="1106" y="261" width="3" height="20" fill="#6aa84f"/>
<rect x="1112" y="256" width="1" height="4"/>
<rect x="1112" y="294" width="1" height="2"/>
<rect x="1110" y="260" width="5" height="34"/>
<rect x="1111" y="261" width="3" height="32" fill="#cc0000"/>
<rect x="1117" y="256" width="1" height="18"/>
<rect x="1117" y="294" width="1" height="2"/>
<rect x="1115" y="274" width="5" height="20"/>
<rect x="1116" y="275" width="3" height="18" fill="#6aa84f"/>
<rect x="1123" y="259" width="1" height="3"/>
<rect x="1123" y="275" width="1" height="5"/>
<rect x="1121" y="262" width="5" height="13"/>
<rect x="1122" y="263" width="3" height="11" fill="#6aa84f"/>
<rect x="1128" y="254" width="1" height="5"/>
<rect x="1128" y="271" width="1" height="4"/>
<rect x="1126" y="259" width="5" height="12"/>
<rect x="1127" y="260" width="3" height="10" fill="#cc0000"/>
<rect x="1133" y="261" width="1" height="10"/>
<rect x="1133" y="280" width="1" height="6"/>
<rect x="1131" y="271" width="5" height="9"/>
<rect x="1132" y="272" width="3" height="7" fill="#cc0000"/>
<rect x="1139" y="248" width="1" height="1"/>
<rect x="1139" y="280" width="1" height="2"/>
<rect x="1137" y="249" width="5" height="31"/>
<rect x="1138" y="250" width="3" height="29" fill="#6aa84f"/>
<rect x="1144" y="248" width="1" height="1"/>
<rect x="1144" y="254" width="1" height="16"/>
<rect x="1142" y="249" width="5" height="5"/>
<rect x="1143" y="250" width="3" height="3" fill="#cc0000"/>
<rect x="1150" y="267" width="1" height="13"/>
<rect x="1148" y="253" width="5" height="14"/>
<rect x="1149" y="254" width="3" height="12" fill="#cc0000"/>
<rect x="1155" y="257" width="1" height="9"/>
<rect x="1155" y="269" width="1" height="9"/>
<rect x="1153" y="266" width="5" height="3"/>
<rect x="1154" y="267" width="3" height="1" fill="#cc0000"/>
<rect x="1160" y="257" width="1" height="10"/>
<rect x="1160" y="270" width="1" height="13"/>
<rect x="1158" y="267" width="5" height="3"/>
<rect x="1159" y="268" width="3" height="1" fill="#cc0000"/>
<rect x="1166" y="251" width="1" height="10"/>
<rect x="1166" y="270" width="1" height="15"/>
<rect x="1164" y="261" width="5" height="9"/>
<rect x="1165" y="262" width="3" height="7" fill="#6aa84f"/>
<rect x="1171" y="231" width="1" height="18"/>
<rect x="1171" y="262" width="1" height="2"/>
<rect x="1169" y="249" width="5" height="13"/>
<rect x="1170" y="250" width="3" height="11" fill="#6aa84f"/>
<rect x="1176" y="238" width="1" height="11"/>
<rect x="1176" y="271" width="1" height="17"/>
<rect x="1174" y="249" width="5" height="22"/>
<rect x="1175" y="250" width="3" height="20" fill="#cc0000"/>
<rect x="1182" y="240" width="1" height="15"/>
<rect x="1180" y="255" width="5" height="15"/>
<rect x="1181" y="256" width="3" height="13" fill="#6aa84f"/>
<rect x="1187" y="222" width="1" height="25"/>
<rect x="1185" y="247" width="5" height="9"/>
<rect x="1186" y="248" width="3" height="7" fill="#6aa84f"/>
<rect x="1193" y="231" width="1" height="15"/>
<rect x="1193" y="248" width="1" height="7"/>
<rect x="1191" y="246" width="5" height="2"/>
<rect x="1198" y="232" width="1" height="14"/>
<rect x="1198" y="248" width="1" height="1"/>
<rect x="1196" y="246" width="5" height="2"/>
<rect x="1203" y="223" width="1" height="8"/>
<rect x="1201" y="231" width="5" height="16"/>
<rect x="1202" y="232" width="3" height="14" fill="#6aa84f"/>
<rect x="1209" y="214" width="1" height="16"/>
<rect x="1209" y="233" width="1" height="1"/>
<rect x="1207" y="230" width="5" height="3"/>
<rect x="1208" y="231" width="3" height="1" fill="#6aa84f"/>
<rect x="1214" y="220" width="1" height="10"/>
<rect x="1214" y="351" width="1" height="4"/>
<rect x="1212" y="230" width="5" height="121"/>
<rect x="1213" y="231" width="3" height="119" fill="#cc0000"/>
<rect x="1219" y="342" width="1" height="8"/>
<rect x="1219" y="352" width="1" height="2"/>
<rect x="1217" y="350" width="5" height="2"/>
<rect x="1225" y="321" width="1" height="29"/>
<rect x="1225" y="365" width="1" height="43"/>
<rect x="1223" y="350" width="5" height="15"/>
<rect x="1224" y="351" width="3" height="13" fill="#cc0000"/>
<rect x="1230" y="361" width="1" height="3"/>
<rect x="1230" y="389" width="1" height="19"/>
<rect x="1228" y="364" width="5" height="25"/>
<rect x="1229" y="365" width="3" height="23" fill="#cc0000"/>
<rect x="1236" y="336" width="1" height="41"/>
<rect x="1236" y="389" width="1" height="15"/>
<rect x="1234" y="377" width="5" height="12"/>
<rect x="1235" y="378" width="3" height="10" fill="#6aa84f"/>
<rect x="1241" y="344" width="1" height="26"/>
<rect x="1239" y="370" width="5" height="8"/>
<rect x="1240" y="371" width="3" height="6" fill="#6aa84f"/>
<rect x="1244" y="362" width="5" height="9"/>
<rect x="1245" y="363" width="3" height="7" fill="#6aa84f"/>
<rect x="1252" y="345" width="1" height="17"/>
<rect x="1252" y="365" width="1" height="7"/>
<rect x="1250" y="362" width="5" height="3"/>
<rect x="1251" y="363" width="3" height="1" fill="#cc0000"/>
<rect x="1257" y="337" width="1" height="17"/>
<rect x="1255" y="354" width="5" height="11"/>
<rect x="1256" y="355" width="3" height="9" fill="#6aa84f"/>
<rect x="1262" y="338" width="1" height="6"/>
<rect x="1262" y="355" width="1" height="6"/>
<rect x="1260" y="344" width="5" height="11"/>
<rect x="1261" y="345" width="3" height="9" fill="#6aa84f"/>
<rect x="1268" y="334" width="1" height="7"/>
<rect x="1266" y="341" width="5" height="7"/>
<rect x="1267" y="342" width="3" height="5" fill="#6aa84f"/>
<rect x="1273" y="321" width="1" height="6"/>
<rect x="1273" y="342" width="1" height="2"/>
<rect x="1271" y="327" width="5" height="15"/>
<rect x="1272" y="328" width="3" height="13" fill="#6aa84f"/>
<rect x="1279" y="294" width="1" height="17"/>
<rect x="1277" y="311" width="5" height="19"/>
<rect x="1278" y="312" width="3" height="17" fill="#6aa84f"/>
<rect x="1284" y="265" width="1" height="11"/>
<rect x="1282" y="276" width="5" height="36"/>
<rect x="1283" y="277" width="3" height="34" fill="#6aa84f"/>
<rect x="1289" y="238" width="1" height="8"/>
<rect x="1287" y="246" width="5" height="31"/>
<rect x="1288" y="247" width="3" height="29" fill="#6aa84f"/>
<rect x="1295" y="233" width="1" height="14"/>
<rect x="1295" y="291" width="1" height="3"/>
<rect x="1293" y="247" width="5" height="44"/>
<rect x="1294" y="248" width="3" height="42" fill="#cc0000"/>
<rect x="1300" y="250" width="1" height="15"/>
<rect x="1298" y="265" width="5" height="26"/>
<rect x="1299" y="266" width="3" height="24" fill="#6aa84f"/>
<rect x="1305" y="244" width="1" height="9"/>
<rect x="1303" y="253" width="5" height="13"/>
<rect x="1304" y="254" width="3" height="11" fill="#6aa84f"/>
<rect x="1311" y="237" width="1" height="15"/>
<rect x="1311" y="254" width="1" height="8"/>
<rect x="1309" y="252" width="5" height="2"/>
<rect x="1316" y="226" width="1" height="1"/>
<rect x="1314" y="227" width="5" height="26"/>
<rect x="1315" y="228" width="3" height="24" fill="#6aa84f"/>
<rect x="1322" y="224" width="1" height="3"/>
<rect x="1320" y="227" width="5" height="57"/>
<rect x="1321" y="228" width="3" height="55" fill="#cc0000"/>
<rect x="1327" y="262" width="1" height="19"/>
<rect x="1327" y="287" width="1" height="1"/>
<rect x="1325" y="281" width="5" height="6"/>
<rect x="1326" y="282" width="3" height="4" fill="#cc0000"/>
<rect x="1332" y="266" width="1" height="20"/>
<rect x="1332" y="351" width="1" height="3"/>
<rect x="1330" y="286" width="5" height="65"/>
<rect x="1331" y="287" width="3" height="63" fill="#cc0000"/>
<rect x="1338" y="337" width="1" height="13"/>
<rect x="1338" y="352" width="1" height="40"/>
<rect x="1336" y="350" width="5" height="2"/>
<rect x="1343" y="328" width="1" height="23"/>
<rect x="1341" y="351" width="5" height="50"/>
<rect x="1342" y="352" width="3" height="48" fill="#cc0000"/>
<rect x="1348" y="380" width="1" height="20"/>
<rect x="1348" y="407" width="1" height="32"/>
<rect x="1346" y="400" width="5" height="7"/>
<rect x="1347" y="401" width="3" height="5" fill="#cc0000"/>
<rect x="1354" y="376" width="1" height="25"/>
<rect x="1354" y="407" width="1" height="19"/>
<rect x="1352" y="401" width="5" height="6"/>
<rect x="1353" y="402" width="3" height="4" fill="#6aa84f"/>
<rect x="1359" y="331" width="1" height="4"/>
<rect x="1357" y="335" width="5" height="69"/>
<rect x="1358" y="336" width="3" height="67" fill="#6aa84f"/>
<rect x="1365" y="284" width="1" height="36"/>
<rect x="1365" y="336" width="1" height="2"/>
<rect x="1363" y="320" width="5" height="16"/>
<rect x="1364" y="321" width="3" height="14" fill="#6aa84f"/>
<rect x="1370" y="336" width="1" height="36"/>
<rect x="1368" y="320" width="5" height="16"/>
<rect x="1369" y="321" width="3" height="14" fill="#cc0000"/>
<rect x="1375" y="336" width="1" height="6"/>
<rect x="1373" y="293" width="5" height="43"/>
<rect x="1374" y="294" width="3" height="41" fill="#6aa84f"/>
<rect x="1381" y="294" width="1" height="6"/>
<rect x="1379" y="259" width="5" height="35"/>
<rect x="1380" y="260" width="3" height="33" fill="#6aa84f"/>
<rect x="1384" y="259" width="5" height="31"/>
<rect x="1385" y="260" width="3" height="29" fill="#cc0000"/>
<rect x="1391" y="271" width="1" height="18"/>
<rect x="1391" y="310" width="1" height="12"/>
<rect x="1389" y="289" width="5" height="21"/>
<rect x="1390" y="290" width="3" height="19" fill="#cc0000"/>
<rect x="1397" y="291" width="1" height="18"/>
<rect x="1397" y="314" width="1" height="9"/>
<rect x="1395" y="309" width="5" height="5"/>
<rect x="1396" y="310" width="3" height="3" fill="#cc0000"/>
<rect x="1402" y="301" width="1" height="10"/>
<rect x="1402" y="351" width="1" height="11"/>
<rect x="1400" y="311" width="5" height="40"/>
<rect x="1401" y="312" width="3" height="38" fill="#cc0000"/>
<rect x="1408" y="331" width="1" height="19"/>
<rect x="1408" y="372" width="1" height="24"/>
<rect x="1406" y="350" width="5" height="22"/>
<rect x="1407" y="351" width="3" height="20" fill="#cc0000"/>
<rect x="1413" y="341" width="1" height="28"/>
<rect x="1411" y="369" width="5" height="3"/>
<rect x="1412" y="370" width="3" height="1" fill="#6aa84f"/>
<rect x="1418" y="352" width="1" height="5"/>
<rect x="1418" y="370" width="1" height="5"/>
<rect x="1416" y="357" width="5" height="13"/>
<rect x="1417" y="358" width="3" height="11" fill="#6aa84f"/>
<rect x="1424" y="341" width="1" height="15"/>
<rect x="1424" y="365" width="1" height="3"/>
<rect x="1422" y="356" width="5" height="9"/>
<rect x="1423" y="357" width="3" height="7" fill="#6aa84f"/>
<rect x="1429" y="340" width="1" height="16"/>
<rect x="1429" y="361" width="1" height="6"/>
<rect x="1427" y="356" width="5" height="5"/>
<rect x="1428" y="357" width="3" height="3" fill="#cc0000"/>
<rect x="1434" y="323" width="1" height="14"/>
<rect x="1432" y="337" width="5" height="27"/>
<rect x="1433" y="338" width="3" height="25" fill="#6aa84f"/>
<rect x="1440" y="331" width="1" height="7"/>
<rect x="1440" y="351" width="1" height="9"/>
<rect x="1438" y="338" width="5" height="13"/>
<rect x="1439" y="339" width="3" height="11" fill="#cc0000"/>
<rect x="1445" y="340" width="1" height="10"/>
<rect x="1445" y="357" width="1" height="15"/>
<rect x="1443" y="350" width="5" height="7"/>
<rect x="1444" y="351" width="3" height="5" fill="#cc0000"/>
<rect x="1451" y="344" width="1" height="13"/>
<rect x="1451" y="368" width="1" height="6"/>
<rect x="1449" y="357" width="5" height="11"/>
<rect x="1450" y="358" width="3" height="9" fill="#cc0000"/>
<rect x="1456" y="363" width="1" height="2"/>
<rect x="1456" y="418" width="1" height="4"/>
<rect x="1454" y="365" width="5" height="53"/>
<rect x="1455" y="366" width="3" height="51" fill="#cc0000"/>
<rect x="1461" y="382" width="1" height="16"/>
<rect x="1461" y="420" width="1" height="23"/>
<rect x="1459" y="398" width="5" height="22"/>
<rect x="1460" y="399" width="3" height="20" fill="#6aa84f"/>
<rect x="1467" y="354" width="1" height="20"/>
<rect x="1467" y="402" width="1" height="1"/>
<rect x="1465" y="374" width="5" height="28"/>
<rect x="1466" y="375" width="3" height="26" fill="#6aa84f"/>
<rect x="1472" y="294" width="1" height="28"/>
<rect x="1470" y="322" width="5" height="53"/>
<rect x="1471" y="323" width="3" height="51" fill="#6aa84f"/>
<rect x="1477" y="137" width="1" height="92"/>
<rect x="1475" y="229" width="5" height="95"/>
<rect x="1476" y="230" width="3" height="93" fill="#6aa84f"/>
<rect x="1483" y="209" width="1" height="20"/>
<rect x="1483" y="292" width="1" height="16"/>
<rect x="1481" y="229" width="5" height="63"/>
<rect x="1482" y="230" width="3" height="61" fill="#cc0000"/>
<rect x="1488" y="195" width="1" height="30"/>
<rect x="1488" y="292" width="1" height="21"/>
<rect x="1486" y="225" width="5" height="67"/>
<rect x="1487" y="226" width="3" height="65" fill="#6aa84f"/>
<rect x="1494" y="175" width="1" height="38"/>
<rect x="1494" y="227" width="1" height="48"/>
<rect x="1492" y="213" width="5" height="14"/>
<rect x="1493" y="214" width="3" height="12" fill="#6aa84f"/>
<rect x="1499" y="162" width="1" height="51"/>
<rect x="1499" y="281" width="1" height="11"/>
<rect x="1497" y="213" width="5" height="68"/>
<rect x="1498" y="214" width="3" height="66" fill="#cc0000"/>
<rect x="1504" y="231" width="1" height="21"/>
<rect x="1504" y="281" width="1" height="9"/>
<rect x="1502" y="252" width="5" height="29"/>
<rect x="1503" y="253" width="3" height="27" fill="#6aa84f"/>
<rect x="1510" y="249" width="1" height="3"/>
<rect x="1510" y="263" width="1" height="13"/>
<rect x="1508" y="252" width="5" height="11"/>
<rect x="1509" y="253" width="3" height="9" fill="#cc0000"/></g>
</g>
<g font-weight="bold">
<text x="725.3" y="85" font-size="25.5" fill="#000" textLength="241.7" lengthAdjust="spacingAndGlyphs">USD/KRW Daily Chart</text>
<text x="1322.8" y="84.8" font-size="25.5" fill="#000" textLength="146.5" lengthAdjust="spacingAndGlyphs">1-2 day view</text>
</g><g stroke-width="1.0">
<text x="1520.3" y="143.2" font-size="23.6" fill="#f23645" stroke="#f23645" textLength="95.5" lengthAdjust="spacingAndGlyphs">1506.00</text>
<text x="1536.1" y="208.0" font-size="23.6" fill="#f23645" stroke="#f23645" textLength="95.5" lengthAdjust="spacingAndGlyphs">1487.00</text>
<text x="1536.1" y="235.2" font-size="23.6" fill="#f23645" stroke="#f23645" textLength="95.5" lengthAdjust="spacingAndGlyphs">1480.00</text>
<text x="1536.1" y="263.3" font-size="23.6" fill="#f23645" stroke="#f23645" textLength="95.5" lengthAdjust="spacingAndGlyphs">1472.00</text>
<text x="1536.1" y="306.9" font-size="23.6" fill="#f23645" stroke="#f23645" textLength="95.5" lengthAdjust="spacingAndGlyphs">1460.00</text>
<text x="1519.8" y="413.6" font-size="23.6" fill="#f23645" stroke="#f23645" textLength="95.5" lengthAdjust="spacingAndGlyphs">1430.00</text>
<text x="1519.8" y="450.8" font-size="23.6" fill="#f23645" stroke="#f23645" textLength="95.5" lengthAdjust="spacingAndGlyphs">1420.00</text>
<text x="483.2" y="725.6" font-size="23.6" fill="#f23645" stroke="#f23645" textLength="95.5" lengthAdjust="spacingAndGlyphs">1348.00</text>
<text x="913.3" y="545.9" font-size="21.2" fill="#9c27b0" stroke="#9c27b0" textLength="108.4" lengthAdjust="spacingAndGlyphs">20-day MA</text>
<text x="1359.4" y="489.8" font-size="21.2" fill="#2962ff" stroke="#2962ff" textLength="121.6" lengthAdjust="spacingAndGlyphs">200-day MA</text>
</g>
<g stroke="#ff9800" stroke-width="6.5" stroke-linecap="round" stroke-linejoin="miter" stroke-miterlimit="10" fill="none"><path d="M1516.6 73.4 H1543"/><path d="M1531.6 59.6 L1545.2 73.4 L1531.6 87.2"/></g>
<rect x="1653" y="34" width="1" height="777" fill="#50535e"/>
<rect x="13" y="771" width="1732" height="1" fill="#50535e"/>
<text x="1666.2" y="92.6" font-size="18" fill="#131722" stroke="#131722" stroke-width="0.35" textLength="66.8" lengthAdjust="spacingAndGlyphs">1,520.00</text>
<text x="1666.2" y="163.6" font-size="18" fill="#131722" stroke="#131722" stroke-width="0.35" textLength="66.8" lengthAdjust="spacingAndGlyphs">1,500.00</text>
<text x="1666.2" y="234.6" font-size="18" fill="#131722" stroke="#131722" stroke-width="0.35" textLength="66.8" lengthAdjust="spacingAndGlyphs">1,480.00</text>
<text x="1666.2" y="304.6" font-size="18" fill="#131722" stroke="#131722" stroke-width="0.35" textLength="66.8" lengthAdjust="spacingAndGlyphs">1,460.00</text>
<text x="1666.2" y="375.6" font-size="18" fill="#131722" stroke="#131722" stroke-width="0.35" textLength="66.8" lengthAdjust="spacingAndGlyphs">1,440.00</text>
<text x="1666.2" y="517.6" font-size="18" fill="#131722" stroke="#131722" stroke-width="0.35" textLength="66.8" lengthAdjust="spacingAndGlyphs">1,400.00</text>
<text x="1666.2" y="588.6" font-size="18" fill="#131722" stroke="#131722" stroke-width="0.35" textLength="66.8" lengthAdjust="spacingAndGlyphs">1,380.00</text>
<text x="1666.2" y="659.6" font-size="18" fill="#131722" stroke="#131722" stroke-width="0.35" textLength="66.8" lengthAdjust="spacingAndGlyphs">1,360.00</text>
<text x="1666.2" y="730.6" font-size="18" fill="#131722" stroke="#131722" stroke-width="0.35" textLength="66.8" lengthAdjust="spacingAndGlyphs">1,340.00</text>
<path d="M1654 250.1 H1738 a3 3 0 0 1 3 3 V271.5 a3 3 0 0 1 -3 3 H1654 Z" fill="#cc0000"/>
<text x="1667.2" y="268.6"  font-size="18" fill="#fff" stroke="#fff" stroke-width="0.35" textLength="66.8" lengthAdjust="spacingAndGlyphs">1,470.78</text>
<path d="M1654 312.4 H1738 a3 3 0 0 1 3 3 V333.7 a3 3 0 0 1 -3 3 H1654 Z" fill="#9c27b0"/>
<text x="1667.2" y="330.8"  font-size="18" fill="#fff" stroke="#fff" stroke-width="0.35" textLength="66.8" lengthAdjust="spacingAndGlyphs">1,453.27</text>
<path d="M1654 423.3 H1738 a3 3 0 0 1 3 3 V444.8 a3 3 0 0 1 -3 3 H1654 Z" fill="#2962ff"/>
<text x="1667.2" y="441.9"  font-size="18" fill="#fff" stroke="#fff" stroke-width="0.35" textLength="66.8" lengthAdjust="spacingAndGlyphs">1,421.94</text>
<rect x="1658" y="39" width="82" height="32.5" rx="6" ry="6" fill="#fff" stroke="#ebebeb" stroke-width="1.3"/>
<text x="1669" y="59.8" font-size="15.2" fill="#434651" textLength="29.8" lengthAdjust="spacingAndGlyphs">KRW</text>
<text x="60.0" y="797.2" font-size="18" fill="#131722" stroke="#131722" stroke-width="0.3" textLength="29.5" lengthAdjust="spacingAndGlyphs">Mar</text>
<text x="173.6" y="797.2" font-size="18" fill="#131722" stroke="#131722" stroke-width="0.3" textLength="28.2" lengthAdjust="spacingAndGlyphs">Apr</text>
<text x="289.9" y="797.2" font-size="18" fill="#131722" stroke="#131722" stroke-width="0.3" textLength="31.8" lengthAdjust="spacingAndGlyphs">May</text>
<text x="409.9" y="797.2" font-size="18" fill="#131722" stroke="#131722" stroke-width="0.3" textLength="27.9" lengthAdjust="spacingAndGlyphs">Jun</text>
<text x="525.0" y="797.2" font-size="18" fill="#131722" stroke="#131722" stroke-width="0.3" textLength="24.0" lengthAdjust="spacingAndGlyphs">Jul</text>
<text x="645.6" y="797.2" font-size="18" fill="#131722" stroke="#131722" stroke-width="0.3" textLength="30.1" lengthAdjust="spacingAndGlyphs">Aug</text>
<text x="759.0" y="797.2" font-size="18" fill="#131722" stroke="#131722" stroke-width="0.3" textLength="28.9" lengthAdjust="spacingAndGlyphs">Sep</text>
<text x="877.7" y="797.2" font-size="18" fill="#131722" stroke="#131722" stroke-width="0.3" textLength="28.2" lengthAdjust="spacingAndGlyphs">Oct</text>
<text x="1000.4" y="797.2" font-size="18" fill="#131722" stroke="#131722" stroke-width="0.3" textLength="30.1" lengthAdjust="spacingAndGlyphs">Nov</text>
<text x="1108.7" y="797.2" font-size="18" fill="#131722" stroke="#131722" stroke-width="0.3" textLength="28.7" lengthAdjust="spacingAndGlyphs">Dec</text>
<text x="1226.5" y="797.2" font-size="18" fill="#131722" stroke="#131722" stroke-width="0.3" textLength="40.7" lengthAdjust="spacingAndGlyphs" font-weight="bold">2026</text>
<text x="1350.2" y="797.2" font-size="18" fill="#131722" stroke="#131722" stroke-width="0.3" textLength="29.0" lengthAdjust="spacingAndGlyphs">Feb</text>
<text x="1457.2" y="797.2" font-size="18" fill="#131722" stroke="#131722" stroke-width="0.3" textLength="29.5" lengthAdjust="spacingAndGlyphs">Mar</text>
<text x="1576.2" y="797.2" font-size="18" fill="#131722" stroke="#131722" stroke-width="0.3" textLength="28.4" lengthAdjust="spacingAndGlyphs">Apr</text>
<g fill="#131722"><path d="M15.4 838.5 H30.5 V856.7 H23.1 V845.6 H15.4 Z"/><circle cx="36.7" cy="842.1" r="3.7"/><path d="M44.4 838.5 H52.7 L45.8 856.7 H37.2 Z"/></g>
<text x="62" y="856.7" font-size="26" font-weight="bold" fill="#131722" textLength="151" lengthAdjust="spacingAndGlyphs">TradingView</text>
</svg></body></html>
